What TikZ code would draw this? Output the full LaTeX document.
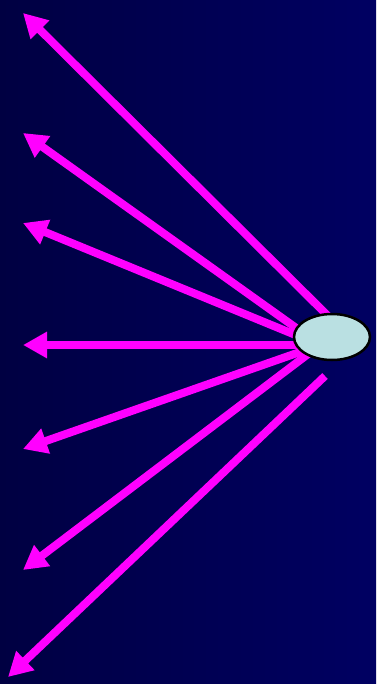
\documentclass[tikz,border=0pt]{standalone}
\usetikzlibrary{arrows.meta,shapes.geometric}
\definecolor{navyL}{RGB}{0,0,66}
\definecolor{navyR}{RGB}{0,0,98}
\definecolor{ray}{RGB}{255,0,255}
\definecolor{blob}{RGB}{186,224,226}

\begin{document}
\begin{tikzpicture}[x=1pt, y=-1pt,
  ray/.style={draw=ray, line width=8pt, -{Triangle[length=24pt,width=25pt]}},
  source/.style={ellipse, draw=black, line width=2.5pt, fill=blob,
    minimum width=76pt, minimum height=46pt, inner sep=0pt}
]
  \shade[left color=navyL, right color=navyR] (0,0) rectangle (376,684);
  \useasboundingbox (0,0) rectangle (376,684);

  \coordinate (hub) at (320,345);
  \coordinate (top) at (330,318);
  \coordinate (bot) at (325,376);
  \coordinate (t1) at (23,13);
  \coordinate (t2) at (23,133);
  \coordinate (t3) at (23,223);
  \coordinate (t4) at (23,345);
  \coordinate (t5) at (23,449);
  \coordinate (t6) at (23,570);
  \coordinate (t7) at (8,677);

  \draw[ray] (top) -- (t1);
  \foreach \i in {2,...,6}
    \draw[ray] (hub) -- (t\i);
  \draw[ray] (bot) -- (t7);

  \node[source] (src) at (332,337) {};
\end{tikzpicture}
\end{document}
